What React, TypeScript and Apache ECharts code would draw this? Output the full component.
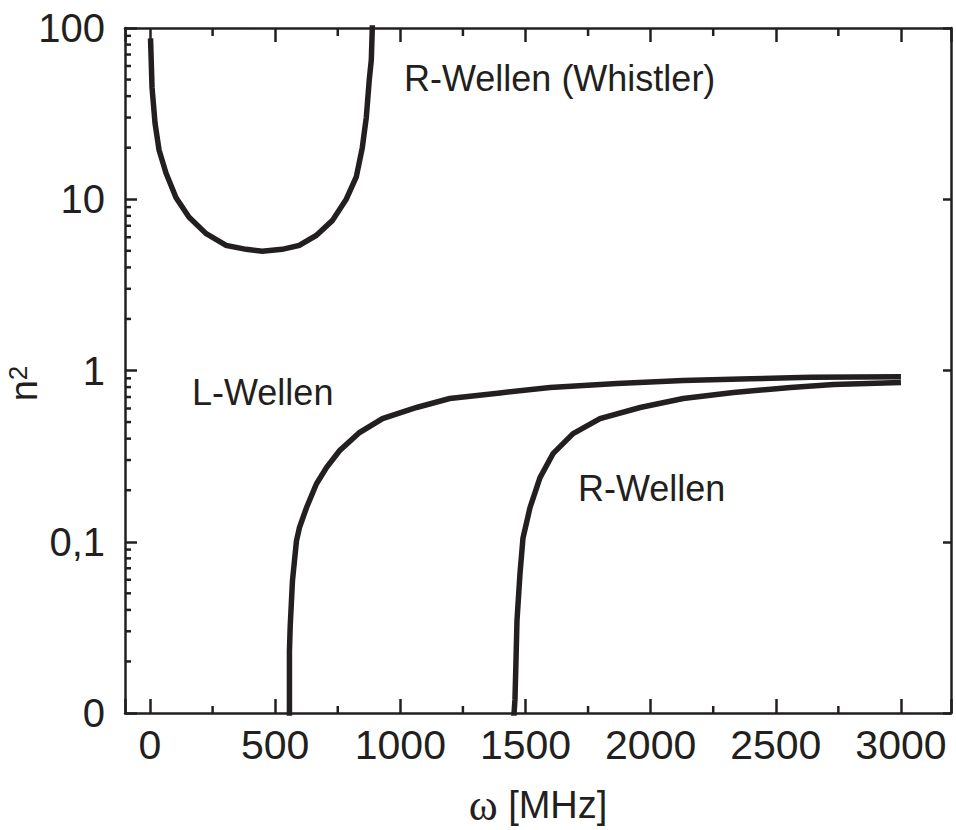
import React, { useEffect, useRef } from "react";
import * as echarts from "echarts";

// ---- data ----
const whistlerX = [2, 8, 20, 36, 64, 104, 156, 224, 304, 384, 448, 528, 596, 664, 728, 784, 824, 848, 864, 876, 884, 888, 890];
const whistlerY = [87, 45, 27.8, 19.4, 14.2, 10.2, 7.85, 6.3, 5.38, 5.1, 4.97, 5.1, 5.38, 6.15, 7.5, 10, 13.5, 20, 30, 50, 65, 100, 150];

const lWaveX = [557, 557, 560, 569, 585, 597, 625, 665, 705, 757, 837, 929, 1065, 1197, 1398, 1598, 1866, 2130, 2400, 2640, 3000];
const lWaveY = [0.008, 0.023, 0.032, 0.059, 0.101, 0.121, 0.158, 0.218, 0.271, 0.34, 0.434, 0.524, 0.608, 0.686, 0.74, 0.796, 0.839, 0.875, 0.895, 0.912, 0.918];

const rWaveX = [1450, 1458, 1462, 1466, 1478, 1490, 1518, 1558, 1610, 1690, 1798, 1958, 2130, 2331, 2559, 2731, 3000];
const rWaveY = [0.008, 0.012, 0.02, 0.0345, 0.065, 0.105, 0.158, 0.237, 0.327, 0.428, 0.524, 0.608, 0.686, 0.743, 0.796, 0.828, 0.85];

const xMinorTicks = [250, 750, 1250, 1750, 2250, 2750];
const yDecades = [0.01, 0.1, 1, 10];
const yMinorFactors = [2, 3, 4, 5, 6, 7, 8, 9];
const yTickLabels: Record<string, string> = { "-2": "0", "-1": "0,1", "0": "1", "1": "10", "2": "100" };

const annotationTexts = ["R-Wellen (Whistler)", "L-Wellen", "R-Wellen"];

const X_MIN = -100;
const X_MAX = 3200;
const Y_MIN = 0.01;
const Y_MAX = 100;

const INK = "#231f20";
const SANS = '"Liberation Sans", Arial, Helvetica, sans-serif';
const SERIF = '"Liberation Serif", "Times New Roman", serif';

export default function App() {
  const ref = useRef<HTMLDivElement>(null);

  useEffect(() => {
    if (!ref.current) return;
    const chart = echarts.init(ref.current, undefined, { renderer: "svg" });

    const toPairs = (xs: number[], ys: number[]) => xs.map((x, i) => [x, ys[i]]);

    const minorData: number[][] = [];
    yDecades.forEach((d) => yMinorFactors.forEach((f) => minorData.push([X_MIN, d * f, 0])));
    xMinorTicks.forEach((v) => {
      minorData.push([v, Y_MIN, 1]);
      minorData.push([v, Y_MAX, 2]);
    });

    const lineSeries = (name: string, xs: number[], ys: number[]) => ({
      name,
      type: "line",
      data: toPairs(xs, ys),
      showSymbol: false,
      symbol: "none",
      clip: true,
      smooth: false,
      lineStyle: { color: INK, width: 5.5, join: "miter" },
      itemStyle: { color: INK },
      z: 3,
    });

    const axisLineStyle = { color: INK, width: 2.5 };

    const annPos = [
      [404, 78],
      [192, 392],
      [578, 488],
    ];

    chart.setOption({
      animation: false,
      backgroundColor: "#ffffff",
      grid: { left: 125, right: 5, top: 28, bottom: 117, containLabel: false, outerBoundsMode: "none" },
      xAxis: [
        {
          type: "value",
          min: X_MIN,
          max: X_MAX,
          position: "bottom",
          axisLine: { show: true, onZero: false, lineStyle: axisLineStyle },
          axisTick: { show: true, inside: true, length: 14, lineStyle: axisLineStyle },
          axisLabel: {
            show: true,
            margin: 11,
            fontSize: 41,
            fontFamily: SANS,
            color: INK,
            formatter: (v: number) => (Math.abs(v % 500) < 1e-6 ? String(v) : ""),
          },
          splitLine: { show: false },
          name: "{w|ω}{t| [MHz]}",
          nameLocation: "middle",
          nameGap: 70,
          nameMoveOverlap: false,
          nameTextStyle: {
            color: INK,
            rich: {
              w: { fontFamily: SERIF, fontSize: 44, color: INK },
              t: { fontFamily: SANS, fontSize: 38, color: INK },
            },
          },
        },
        {
          type: "value",
          min: X_MIN,
          max: X_MAX,
          position: "top",
          axisLine: { show: true, onZero: false, lineStyle: axisLineStyle },
          axisTick: { show: true, inside: true, length: 14, lineStyle: axisLineStyle },
          axisLabel: { show: false },
          splitLine: { show: false },
        },
      ],
      yAxis: [
        {
          type: "log",
          logBase: 10,
          min: Y_MIN,
          max: Y_MAX,
          position: "left",
          axisLine: { show: true, onZero: false, lineStyle: axisLineStyle },
          axisTick: { show: true, inside: true, length: 12, lineStyle: axisLineStyle },
          axisLabel: {
            show: true,
            margin: 20,
            fontSize: 40,
            fontFamily: SANS,
            color: INK,
            formatter: (v: number) => yTickLabels[String(Math.round(Math.log10(v)))] ?? "",
          },
          splitLine: { show: false },
          minorTick: { show: false },
          name: "{n|n}{s|2}",
          nameLocation: "middle",
          nameGap: 82,
          nameMoveOverlap: false,
          nameTextStyle: {
            color: INK,
            padding: [0, 26, 0, 0],
            rich: {
              n: { fontFamily: SANS, fontSize: 38, color: INK },
              s: { fontFamily: SANS, fontSize: 26, color: INK, verticalAlign: "top" },
            },
          },
        },
        {
          type: "log",
          logBase: 10,
          min: Y_MIN,
          max: Y_MAX,
          position: "right",
          axisLine: { show: true, onZero: false, lineStyle: axisLineStyle },
          axisTick: { show: true, inside: true, length: 8, lineStyle: axisLineStyle },
          axisLabel: { show: false },
          splitLine: { show: false },
        },
      ],
      series: [
        lineSeries("R-Wellen (Whistler)", whistlerX, whistlerY),
        lineSeries("L-Wellen", lWaveX, lWaveY),
        lineSeries("R-Wellen", rWaveX, rWaveY),
        {
          type: "custom",
          name: "minor ticks",
          silent: true,
          clip: false,
          z: 5,
          encode: { x: 0, y: 1 },
          data: minorData,
          renderItem: (_params: any, api: any) => {
            const p = api.coord([api.value(0), api.value(1)]);
            const dir = api.value(2);
            let x2 = p[0];
            let y2 = p[1];
            if (dir === 0) x2 += 6;
            else if (dir === 1) y2 -= 7;
            else y2 += 8;
            return {
              type: "line",
              shape: { x1: p[0], y1: p[1], x2, y2 },
              style: { stroke: INK, lineWidth: 2.5 },
            };
          },
        },
      ],
      graphic: annotationTexts.map((t, i) => ({
        type: "text",
        x: annPos[i][0],
        y: annPos[i][1],
        silent: true,
        style: {
          text: t,
          fontSize: 36,
          fontFamily: SANS,
          fill: INK,
          align: "left",
          verticalAlign: "middle",
        },
      })),
    });

    return () => chart.dispose();
  }, []);

  return (
    <div
      ref={ref}
      style={{ position: "fixed", left: 0, top: 0, width: 956, height: 830, background: "#fff" }}
    />
  );
}
